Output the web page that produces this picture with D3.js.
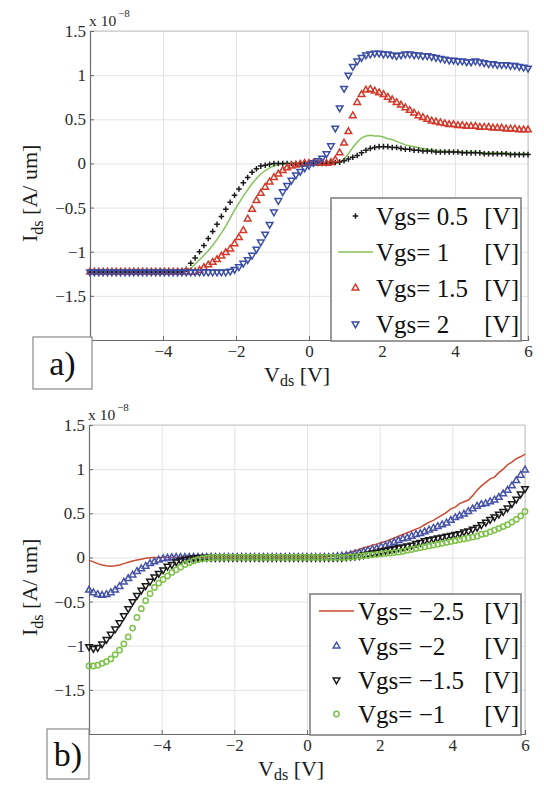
<!DOCTYPE html>
<html><head><meta charset="utf-8">
<script src="https://cdn.jsdelivr.net/npm/d3@7"></script>
<style>body{margin:0;background:#fff}svg{display:block}</style>
</head><body>
<svg id="c" width="544" height="785"></svg>
<script>
// ---------- DATA ----------
const vds = [-6,-5.88,-5.76,-5.64,-5.52,-5.4,-5.28,-5.16,-5.04,-4.92,
-4.8,-4.68,-4.56,-4.44,-4.32,-4.2,-4.08,-3.96,-3.84,-3.72,
-3.6,-3.48,-3.36,-3.24,-3.12,-3,-2.88,-2.76,-2.64,-2.52,
-2.4,-2.28,-2.16,-2.04,-1.92,-1.8,-1.68,-1.56,-1.44,-1.32,
-1.2,-1.08,-0.96,-0.84,-0.72,-0.6,-0.48,-0.36,-0.24,-0.12,
0,
0.12,0.24,0.36,0.48,0.6,0.72,0.84,0.96,1.08,1.2,
1.32,1.44,1.56,1.68,1.8,1.92,2.04,2.16,2.28,2.4,
2.52,2.64,2.76,2.88,3,3.12,3.24,3.36,3.48,3.6,
3.72,3.84,3.96,4.08,4.2,4.32,4.44,4.56,4.68,4.8,
4.92,5.04,5.16,5.28,5.4,5.52,5.64,5.76,5.88,6];

const xTickValues = [-6,-4,-2,0,2,4,6];
const xTickLabels = ["","\u22124","\u22122","0","2","4","6"];
const yTickValues = [-2,-1.5,-1,-0.5,0,0.5,1,1.5];
const yTickLabels = ["","\u22121.5","\u22121","\u22120.5","0","0.5","1","1.5"];

// panel a) : Vgs = 0.5, 1, 1.5, 2  (units of 1e-8 A/um)
const topLegendNames = ["Vgs= 0.5","Vgs= 1","Vgs= 1.5","Vgs= 2"];
const topVgs05 = [-1.23,-1.23,-1.23,-1.23,-1.23,-1.23,-1.23,-1.23,-1.23,-1.23,
-1.23,-1.23,-1.23,-1.23,-1.23,-1.23,-1.23,-1.23,-1.23,-1.23,
-1.23,-1.23,-1.20,-1.13,-1.07,-1.00,-0.93,-0.85,-0.77,-0.69,
-0.60,-0.52,-0.44,-0.36,-0.29,-0.22,-0.16,-0.10,-0.06,-0.03,
-0.02,-0.01,0,0,0,0,0,0,0,0,
0,
0,0,0,0,0.005,0.01,0.015,0.03,0.05,0.07,
0.09,0.12,0.15,0.17,0.18,0.19,0.19,0.19,0.18,0.18,
0.17,0.16,0.16,0.15,0.15,0.14,0.14,0.14,0.13,0.13,
0.13,0.13,0.13,0.13,0.12,0.12,0.12,0.12,0.12,0.11,
0.11,0.11,0.11,0.11,0.11,0.10,0.10,0.10,0.10,0.10];
const topVgs1 = [-1.23,-1.23,-1.23,-1.23,-1.23,-1.23,-1.23,-1.23,-1.23,-1.23,
-1.23,-1.23,-1.23,-1.23,-1.23,-1.23,-1.23,-1.23,-1.23,-1.23,
-1.23,-1.23,-1.22,-1.19,-1.14,-1.09,-1.04,-0.99,-0.93,-0.86,
-0.79,-0.71,-0.62,-0.53,-0.45,-0.37,-0.30,-0.23,-0.17,-0.12,
-0.08,-0.05,-0.03,-0.015,-0.005,0,0,0,0,0,
0,
0,0,0,0,0,0,0.01,0.05,0.11,0.18,
0.24,0.29,0.31,0.32,0.31,0.31,0.30,0.28,0.27,0.25,
0.23,0.21,0.20,0.19,0.18,0.17,0.16,0.15,0.15,0.14,
0.14,0.14,0.13,0.13,0.13,0.13,0.13,0.13,0.12,0.12,
0.12,0.12,0.12,0.12,0.12,0.11,0.11,0.11,0.11,0.11];
const topVgs15 = [-1.23,-1.23,-1.23,-1.23,-1.23,-1.23,-1.23,-1.23,-1.23,-1.23,
-1.23,-1.23,-1.23,-1.23,-1.23,-1.23,-1.23,-1.23,-1.23,-1.23,
-1.23,-1.23,-1.23,-1.23,-1.23,-1.21,-1.18,-1.15,-1.12,-1.09,
-1.05,-1.01,-0.97,-0.91,-0.84,-0.76,-0.63,-0.52,-0.42,-0.34,
-0.27,-0.21,-0.16,-0.12,-0.08,-0.05,-0.03,-0.02,-0.01,0,
0,
0,0,0,0,0.01,0.04,0.12,0.23,0.36,0.54,
0.69,0.78,0.83,0.84,0.82,0.80,0.78,0.75,0.72,0.69,
0.66,0.63,0.60,0.57,0.54,0.52,0.50,0.48,0.47,0.46,
0.45,0.44,0.44,0.43,0.43,0.42,0.42,0.42,0.41,0.41,
0.41,0.40,0.40,0.40,0.39,0.39,0.39,0.38,0.38,0.38];
const topVgs2 = [-1.23,-1.23,-1.23,-1.23,-1.23,-1.23,-1.23,-1.23,-1.23,-1.23,
-1.23,-1.23,-1.23,-1.23,-1.23,-1.23,-1.23,-1.23,-1.23,-1.23,
-1.23,-1.23,-1.23,-1.23,-1.23,-1.23,-1.23,-1.23,-1.23,-1.23,
-1.23,-1.23,-1.22,-1.20,-1.17,-1.13,-1.09,-1.04,-0.97,-0.89,
-0.80,-0.69,-0.55,-0.42,-0.32,-0.25,-0.19,-0.13,-0.09,-0.05,
-0.02,
0.01,0.03,0.06,0.11,0.20,0.40,0.63,0.85,1.00,1.10,
1.16,1.20,1.23,1.24,1.25,1.25,1.24,1.24,1.23,1.22,
1.23,1.24,1.24,1.23,1.23,1.22,1.22,1.21,1.20,1.19,
1.18,1.17,1.17,1.16,1.16,1.15,1.15,1.16,1.15,1.14,
1.13,1.13,1.12,1.12,1.12,1.11,1.11,1.10,1.09,1.08];

// panel b) : Vgs = -2.5, -2, -1.5, -1
const botLegendNames = ["Vgs= \u22122.5","Vgs= \u22122","Vgs= \u22121.5","Vgs= \u22121"];
const botVgsM25 = [-0.03,-0.05,-0.07,-0.085,-0.095,-0.10,-0.095,-0.085,-0.07,-0.055,
-0.04,-0.03,-0.02,-0.01,-0.005,0,0,0,0,0,
0,0,0,0,0,0,0,0,0,0,
0,0,0,0,0,0,0,0,0,0,
0,0,0,0,0,0,0,0,0,0,
0,
0,0,0,0.005,0.01,0.02,0.025,0.035,0.045,0.06,
0.075,0.09,0.11,0.12,0.14,0.15,0.17,0.18,0.20,0.22,
0.24,0.26,0.28,0.30,0.32,0.34,0.37,0.40,0.42,0.45,
0.48,0.51,0.55,0.57,0.61,0.63,0.65,0.70,0.76,0.81,
0.85,0.89,0.91,0.96,1.00,1.05,1.08,1.12,1.14,1.17];
const botVgsM2 = [-0.37,-0.40,-0.42,-0.43,-0.42,-0.40,-0.37,-0.33,-0.28,-0.24,
-0.20,-0.16,-0.13,-0.10,-0.07,-0.05,-0.03,-0.015,-0.008,-0.003,
0,0,0,0,0,0,0,0,0,0,
0,0,0,0,0,0,0,0,0,0,
0,0,0,0,0,0,0,0,0,0,
0,
0,0,0,0,0,0.005,0.01,0.015,0.02,0.03,
0.04,0.05,0.065,0.08,0.09,0.10,0.12,0.13,0.15,0.17,
0.19,0.21,0.22,0.24,0.26,0.27,0.29,0.31,0.33,0.35,
0.37,0.39,0.42,0.45,0.47,0.49,0.52,0.55,0.58,0.60,
0.61,0.63,0.65,0.68,0.72,0.76,0.81,0.87,0.93,0.99];
const botVgsM15 = [-1.01,-1.03,-1.02,-0.98,-0.93,-0.87,-0.81,-0.74,-0.66,-0.58,
-0.50,-0.43,-0.37,-0.32,-0.27,-0.22,-0.18,-0.14,-0.10,-0.08,
-0.05,-0.03,-0.02,-0.01,-0.005,0,0,0,0,0,
0,0,0,0,0,0,0,0,0,0,
0,0,0,0,0,0,0,0,0,0,
0,
0,0,0,0,0,0,0,0,0.005,0.01,
0.015,0.02,0.03,0.04,0.05,0.06,0.07,0.08,0.09,0.10,
0.11,0.12,0.13,0.14,0.16,0.17,0.19,0.20,0.21,0.22,
0.23,0.24,0.25,0.26,0.27,0.29,0.30,0.32,0.34,0.37,
0.40,0.43,0.46,0.49,0.52,0.56,0.61,0.66,0.72,0.78];
const botVgsM1 = [-1.23,-1.23,-1.22,-1.20,-1.18,-1.15,-1.10,-1.05,-0.98,-0.90,
-0.80,-0.68,-0.58,-0.49,-0.41,-0.34,-0.29,-0.25,-0.21,-0.17,
-0.14,-0.11,-0.08,-0.06,-0.04,-0.025,-0.015,-0.008,-0.003,0,
0,0,0,0,0,0,0,0,0,0,
0,0,0,0,0,0,0,0,0,0,
0,
0,0,0,0,0,0,0,0,0,0.005,
0.01,0.015,0.02,0.025,0.03,0.035,0.04,0.045,0.05,0.055,
0.06,0.07,0.08,0.09,0.10,0.11,0.12,0.13,0.14,0.15,
0.16,0.17,0.18,0.19,0.20,0.21,0.22,0.23,0.24,0.26,
0.27,0.29,0.31,0.33,0.35,0.37,0.40,0.43,0.47,0.52];

// ---------- DRAWING ----------
const svg = d3.select("#c");
const FONT = "Liberation Serif, Times New Roman, serif";

const markerPath = {
  plus: "M-2.8,0H2.8M0,-2.8V2.8",
  triUp: d3.symbol(d3.symbolTriangle, 19)(),
  triDown: d3.symbol(d3.symbolTriangle, 19)(),
  circle: d3.symbol(d3.symbolCircle, 22)()
};

function drawMarkers(g, pts, type, color) {
  g.selectAll(null).data(pts).join("path")
    .attr("d", markerPath[type])
    .attr("transform", d => `translate(${d[0]},${d[1]})` + (type === "triDown" ? " rotate(180)" : ""))
    .attr("fill", "none")
    .attr("stroke", color)
    .attr("stroke-width", 1.5);
}

function panel(cfg) {
  const x = d3.scaleLinear().domain([-6, 6]).range([cfg.left, cfg.right]);
  const y = d3.scaleLinear().domain([-2, 1.5]).range([cfg.bottom, cfg.top]);
  const g = svg.append("g");

  // grid
  g.append("g").attr("transform", `translate(0,${cfg.bottom})`)
    .call(d3.axisBottom(x).tickValues(xTickValues).tickSize(-(cfg.bottom - cfg.top)).tickFormat(""))
    .call(a => a.select(".domain").remove())
    .call(a => a.selectAll("line").attr("stroke", "#e3e3e3"));
  g.append("g").attr("transform", `translate(${cfg.left},0)`)
    .call(d3.axisLeft(y).tickValues(yTickValues).tickSize(-(cfg.right - cfg.left)).tickFormat(""))
    .call(a => a.select(".domain").remove())
    .call(a => a.selectAll("line").attr("stroke", "#e3e3e3"));

  // frame top/right
  g.append("path").attr("d", `M${cfg.left},${cfg.top}H${cfg.right}V${cfg.bottom}`)
    .attr("fill", "none").attr("stroke", "#c4c4c4").attr("stroke-width", 1);

  // axes
  const xa = g.append("g").attr("transform", `translate(0,${cfg.bottom})`)
    .call(d3.axisBottom(x).tickValues(xTickValues).tickSize(-4).tickPadding(5)
      .tickFormat((d, i) => xTickLabels[i]));
  const ya = g.append("g").attr("transform", `translate(${cfg.left},0)`)
    .call(d3.axisLeft(y).tickValues(yTickValues).tickSize(-4).tickPadding(4)
      .tickFormat((d, i) => yTickLabels[i]));
  [xa, ya].forEach(a => {
    a.select(".domain").attr("stroke", "#6a6a6a").attr("stroke-width", 1.2);
    a.selectAll(".tick line").attr("stroke", "#6a6a6a");
    a.selectAll("text").attr("font-family", FONT).attr("font-size", 17).attr("fill", "#2a2a2a");
  });

  // exponent
  const ex = g.append("text").attr("x", cfg.left - 1).attr("y", cfg.top - 5)
    .attr("font-family", FONT).attr("font-size", 15.5).attr("fill", "#2a2a2a");
  ex.append("tspan").text("x 10");
  ex.append("tspan").attr("dy", -9).attr("dx", 2).attr("font-size", 11).text("\u22128");

  // series (drawing order)
  cfg.drawOrder.forEach(k => {
    const s = cfg.series[k];
    const pts = vds.map((v, i) => [x(v), y(s.values[i])]);
    if (s.type === "line") {
      g.append("path").attr("d", d3.line()(pts)).attr("fill", "none")
        .attr("stroke", s.color).attr("stroke-width", 1.5);
    } else {
      drawMarkers(g.append("g"), pts, s.type, s.color);
    }
  });

  // axis labels
  const yl = g.append("text")
    .attr("transform", `translate(${cfg.ylabX},${cfg.ylabY}) rotate(-90)`)
    .attr("font-family", FONT).attr("font-size", 22).attr("fill", "#1a1a1a");
  yl.append("tspan").text("I");
  yl.append("tspan").attr("dy", 6).attr("font-size", 16).text("ds");
  yl.append("tspan").attr("dy", -6).text(" [A/ um]");

  const xl = g.append("text").attr("x", cfg.xlabX).attr("y", cfg.xlabY)
    .attr("font-family", FONT).attr("font-size", 22).attr("fill", "#1a1a1a");
  xl.append("tspan").text("V");
  xl.append("tspan").attr("dy", 4).attr("font-size", 16).text("ds");
  xl.append("tspan").attr("dy", -4).text(" [V]");

  // legend (series listed in legend order)
  const L = cfg.legend;
  g.append("rect").attr("x", L.x0).attr("y", L.y0).attr("width", L.x1 - L.x0).attr("height", L.y1 - L.y0)
    .attr("fill", "#fff").attr("stroke", "#7a7a7a").attr("stroke-width", 1.5);
  cfg.series.forEach((s, i) => {
    const cy = L.rows[i];
    if (s.type === "line") {
      g.append("line").attr("x1", L.sym0).attr("x2", L.sym1).attr("y1", cy).attr("y2", cy)
        .attr("stroke", s.color).attr("stroke-width", 1.5);
    } else {
      drawMarkers(g.append("g"), [[(L.sym0 + L.sym1) / 2, cy]], s.type, s.color);
    }
    g.append("text").attr("x", L.text).attr("y", cy + 8.5)
      .attr("font-family", FONT).attr("font-size", 25).attr("fill", "#111").text(cfg.names[i]);
    g.append("text").attr("x", L.unit).attr("y", cy + 8.5).attr("text-anchor", "end")
      .attr("font-family", FONT).attr("font-size", 25).attr("fill", "#111").text("[V]");
  });

  // panel tag
  const T = cfg.tag;
  g.append("rect").attr("x", T.x).attr("y", T.y).attr("width", T.w).attr("height", T.h)
    .attr("fill", "#fff").attr("stroke", "#8a8a8a").attr("stroke-width", 1.2);
  g.append("text").attr("x", T.x + T.w / 2).attr("y", T.y + T.h / 2 + 12).attr("text-anchor", "middle")
    .attr("font-family", FONT).attr("font-size", 34).attr("fill", "#111").text(T.label);
}

panel({
  left: 90, right: 528, top: 31, bottom: 340,
  ylabX: 37, ylabY: 242, xlabX: 264, xlabY: 382,
  names: topLegendNames,
  series: [
    {values: topVgs05, type: "plus", color: "#1a1a1a"},
    {values: topVgs1, type: "line", color: "#86c25a"},
    {values: topVgs15, type: "triUp", color: "#d2392a"},
    {values: topVgs2, type: "triDown", color: "#3b4ea6"}
  ],
  drawOrder: [1, 0, 2, 3],
  legend: {x0: 331, x1: 521, y0: 198, y1: 341, rows: [216, 252, 288, 324], sym0: 338, sym1: 373, text: 376, unit: 519},
  tag: {x: 33, y: 337, w: 59, h: 52, label: "a)"}
});

panel({
  left: 89, right: 525, top: 425, bottom: 734,
  ylabX: 37, ylabY: 636, xlabX: 258, xlabY: 776,
  names: botLegendNames,
  series: [
    {values: botVgsM25, type: "line", color: "#c94b32"},
    {values: botVgsM2, type: "triUp", color: "#4552a8"},
    {values: botVgsM15, type: "triDown", color: "#1a1a1a"},
    {values: botVgsM1, type: "circle", color: "#7fc24a"}
  ],
  drawOrder: [0, 1, 2, 3],
  legend: {x0: 310, x1: 521, y0: 594, y1: 735, rows: [611, 646, 680, 714], sym0: 319, sym1: 354, text: 358, unit: 519},
  tag: {x: 47, y: 729, w: 42, h: 50, label: "b)"}
});
</script>
</body></html>
